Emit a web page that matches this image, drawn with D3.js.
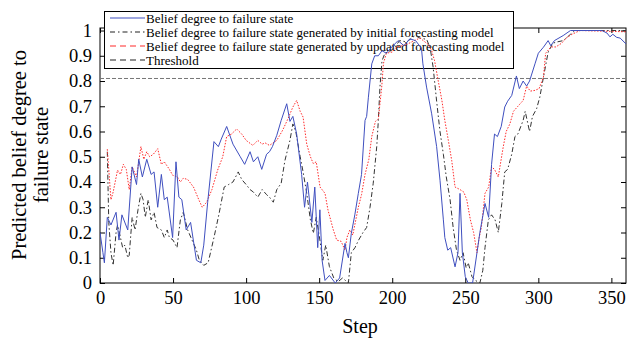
<!DOCTYPE html>
<html><head><meta charset="utf-8">
<script src="https://cdn.jsdelivr.net/npm/d3@7/dist/d3.min.js"></script>
<style>body{margin:0;background:#fff}svg{display:block}</style>
</head><body>
<svg id="chart" width="627" height="344"></svg>
<script>
// ---- data ----
const xTicks = [0, 50, 100, 150, 200, 250, 300, 350];
const yTicks = [0, 0.1, 0.2, 0.3, 0.4, 0.5, 0.6, 0.7, 0.8, 0.9, 1];
const yTickLabels = ["0", "0.1", "0.2", "0.3", "0.4", "0.5", "0.6", "0.7", "0.8", "0.9", "1"];
const legendLabels = [
  "Belief degree to failure state",
  "Belief degree to failure state generated by initial forecasting model",
  "Belief degree to failure state generated by updated forecasting model",
  "Threshold"
];
const threshold = 0.81;

const actualSteps = [0,2,3,5,7.5,11,13,15,19,22,25,26.5,29,32,35,37,39.5,42,44,46,49.7,52,54,56,59,62,66,69,71,73.7,78,81,83,86.7,91,96,99,102.7,105,108,110.7,114,116,118,121,124,127.8,130,132,134.6,138,140,142,145,147,149,150.5,152,154,157,161,164,167.7,169,170,172,174.4,176.8,179,181.4,182.5,183.7,186,188,190.5,193,196,199.6,204,208,212,216,220,221,223.5,227,230.4,232.7,235,236,238,240,243,245,246.4,248,250,252,255,258,260,263.5,266,268,270,272,274.6,277,279,281.8,285,287,289.6,292,294,297.7,300,303.5,306.7,308.5,311,317,322,343.5,347,349,351,353.6,356,360];
const actualValues = [0.20,0.12,0.08,0.26,0.23,0.28,0.17,0.27,0.21,0.46,0.39,0.49,0.42,0.49,0.43,0.44,0.30,0.43,0.33,0.34,0.18,0.48,0.34,0.33,0.21,0.24,0.09,0.08,0.15,0.32,0.56,0.54,0.57,0.62,0.55,0.50,0.47,0.52,0.48,0.50,0.45,0.51,0.52,0.54,0.585,0.644,0.71,0.64,0.66,0.59,0.43,0.30,0.40,0.24,0.38,0.14,0.29,0.09,0.01,0.03,0.0,0.02,0.157,0.12,0.10,0.196,0.27,0.355,0.43,0.644,0.66,0.736,0.868,0.90,0.90,0.92,0.91,0.934,0.96,0.94,0.967,0.96,0.93,0.868,0.776,0.67,0.54,0.407,0.25,0.18,0.13,0.14,0.064,0.12,0.355,0.12,0.025,0.0,0.0,0.12,0.20,0.315,0.26,0.47,0.59,0.58,0.62,0.697,0.72,0.743,0.82,0.77,0.80,0.78,0.80,0.868,0.91,0.934,0.96,0.94,0.96,0.98,1.0,1.0,0.99,0.975,0.985,0.973,0.97,0.947];

const initialSteps = [5,6,7.5,9,11,12,14,15.5,17,19,20,22,24,26,28,29.5,31,33,35,37,39,42,44,46,47.5,50,52.7,55,57,60,63,66,68,71,74,78,81.5,85,88,91,94.6,97,100,102.7,105,108,111,114,116,118.6,121,124,126.6,130,132,134,137,139,141.5,144,146,148,150.5,152.5,154.5,157,160,163,166,170,172,174.5,177,180,182.5,184.8,187,189.4,190.5,191.6,193,195,199,202,205,210,215.6,219,223.6,226,228,230.4,232.7,235,237,239.6,241.7,244,246.4,248.5,250.6,252,254.6,257,260,262,263.5,265.8,268,270.4,272.6,275,277,279,281.8,284,286,289.6,291,294,296,298.8,301,303.5,306.7,310,313,317,322,325,360];
const initialValues = [0.52,0.24,0.12,0.07,0.20,0.23,0.18,0.14,0.15,0.10,0.11,0.26,0.21,0.29,0.355,0.33,0.26,0.33,0.25,0.28,0.22,0.21,0.18,0.21,0.18,0.17,0.14,0.25,0.28,0.21,0.17,0.13,0.09,0.07,0.08,0.18,0.275,0.38,0.39,0.40,0.44,0.41,0.39,0.37,0.36,0.34,0.37,0.35,0.34,0.32,0.37,0.395,0.486,0.565,0.63,0.60,0.50,0.44,0.355,0.25,0.197,0.26,0.17,0.09,0.15,0.065,0.02,0.005,0.02,0.0,0.12,0.14,0.17,0.20,0.22,0.30,0.395,0.54,0.644,0.776,0.88,0.91,0.92,0.935,0.96,0.955,0.98,0.97,0.965,0.93,0.855,0.72,0.60,0.51,0.42,0.33,0.22,0.13,0.09,0.12,0.06,0.08,0.025,0.01,0.0,0.05,0.14,0.25,0.27,0.25,0.20,0.315,0.44,0.45,0.51,0.58,0.59,0.644,0.68,0.60,0.66,0.69,0.736,0.815,0.914,0.95,0.955,0.96,0.985,1.0,1.0];

const updatedSteps = [5,7.5,9,12,14,16,18,20,22,25,28,30,32,34,36.5,39.5,42,44,47.5,49.7,53,55,57,60,64,67.6,70,73,76.6,80.5,84,86.7,90,93.5,97,100,104.6,108,111,113,116,121,125,128.6,132,134.6,137,139,141.5,144,146,148,150.6,154,156,159.7,162,165,167.7,169,171,173,176.8,179,181.4,184,186,188.5,190.5,192.8,194,196,200,203,207,210,215,219,224.6,227,229,231.5,234,236,238.4,240.7,243,246.4,249,251,253.5,255.7,258,259.5,261,263.5,266,268,270,272.6,274,276,278,280.5,283,286,289.6,292,294.5,297.7,300.5,303.5,305,308.6,312,316,319,323,328.5,360];
const updatedValues = [0.53,0.33,0.36,0.447,0.43,0.47,0.45,0.37,0.46,0.42,0.54,0.49,0.52,0.50,0.51,0.532,0.47,0.48,0.45,0.427,0.42,0.40,0.415,0.41,0.38,0.33,0.30,0.32,0.37,0.447,0.50,0.58,0.59,0.61,0.59,0.565,0.545,0.565,0.55,0.555,0.545,0.565,0.605,0.65,0.697,0.723,0.68,0.657,0.55,0.50,0.473,0.48,0.38,0.355,0.29,0.21,0.17,0.165,0.13,0.18,0.21,0.19,0.30,0.35,0.43,0.49,0.58,0.64,0.65,0.776,0.87,0.91,0.915,0.935,0.94,0.945,0.96,0.97,0.945,0.92,0.88,0.80,0.723,0.644,0.565,0.486,0.38,0.37,0.36,0.33,0.25,0.20,0.12,0.18,0.22,0.355,0.38,0.46,0.45,0.42,0.47,0.54,0.60,0.63,0.68,0.70,0.723,0.78,0.76,0.763,0.77,0.815,0.91,0.935,0.935,0.95,0.97,0.985,1.0,0.995];

// ---- layout ----
const FONT = "'Liberation Serif', 'Times New Roman', serif";
const svg = d3.select("#chart");
const x = d3.scaleLinear().domain([0, 360]).range([100, 626]);
const y = d3.scaleLinear().domain([0, 1.01]).range([283, 28]);

const g = svg.append("g");

const ax = (sel) => { sel.select(".domain").remove(); sel.selectAll("line").attr("stroke", "#000"); sel.selectAll("text").attr("font-family", FONT).attr("font-size", 18.5).attr("fill", "#000"); };
g.append("g").attr("transform", "translate(0,283)")
  .call(d3.axisBottom(x).tickValues(xTicks).tickSize(-5).tickPadding(8).tickFormat(d3.format("d"))).call(ax);
g.append("g").attr("transform", "translate(0,28)")
  .call(d3.axisTop(x).tickValues(xTicks).tickSize(-5).tickFormat("")).call(ax);
g.append("g").attr("transform", "translate(100,0)")
  .call(d3.axisLeft(y).tickValues(yTicks).tickSize(-5).tickPadding(8).tickFormat((d, i) => yTickLabels[i])).call(ax);
g.append("g").attr("transform", "translate(626,0)")
  .call(d3.axisRight(y).tickValues(yTicks).tickSize(-5).tickFormat("")).call(ax);

g.append("rect").attr("x", 100).attr("y", 28).attr("width", 526).attr("height", 255)
  .attr("fill", "none").attr("stroke", "#000").attr("stroke-width", 1);

g.append("line").attr("x1", x(0)).attr("x2", x(360)).attr("y1", y(threshold)).attr("y2", y(threshold))
  .attr("stroke", "#777").attr("stroke-width", 1).attr("stroke-dasharray", "4,2");

const legend = svg.append("g");
legend.append("rect").attr("x", 104.5).attr("y", 11.5).attr("width", 409).attr("height", 57)
  .attr("fill", "#fff").attr("stroke", "#000").attr("stroke-width", 1);
const legendStyles = [
  {stroke: "#3f4fbf", dash: null},
  {stroke: "#222", dash: "5,3,1.5,3"},
  {stroke: "#ff2a2a", dash: "6,4"},
  {stroke: "#222", dash: "6,4"}
];
const legendY = [18, 32, 46, 60];
legendLabels.forEach((t, i) => {
  legend.append("line").attr("x1", 110).attr("x2", 145).attr("y1", legendY[i]).attr("y2", legendY[i])
    .attr("stroke", legendStyles[i].stroke).attr("stroke-width", 1.2)
    .attr("stroke-dasharray", legendStyles[i].dash);
  legend.append("text").attr("x", 146).attr("y", legendY[i]).attr("dy", "0.35em")
    .attr("font-family", FONT).attr("font-size", 13).attr("fill", "#000").text(t);
});

const clip = svg.append("clipPath").attr("id", "clip").append("rect")
  .attr("x", 100).attr("y", 20).attr("width", 526).attr("height", 263);
const line = d3.line().x(d => x(d[0])).y(d => y(d[1]));
const lines = svg.append("g").attr("clip-path", "url(#clip)");
const zip = (s, v) => s.map((d, i) => [d, v[i]]);
lines.append("path").datum(zip(initialSteps, initialValues)).attr("d", line)
  .attr("fill", "none").attr("stroke", "#333").attr("stroke-width", 1).attr("stroke-dasharray", "5,2.5,1.5,2.5");
lines.append("path").datum(zip(updatedSteps, updatedValues)).attr("d", line)
  .attr("fill", "none").attr("stroke", "#ff2a2a").attr("stroke-width", 1).attr("stroke-dasharray", "1.5,1.5");
lines.append("path").datum(zip(actualSteps, actualValues)).attr("d", line)
  .attr("fill", "none").attr("stroke", "#3f4fbf").attr("stroke-width", 1);

svg.append("text").attr("x", 360).attr("y", 333).attr("text-anchor", "middle")
  .attr("font-family", FONT).attr("font-size", 20).text("Step");
const yt = svg.append("text").attr("transform", "translate(19,155) rotate(-90)")
  .attr("text-anchor", "middle").attr("font-family", FONT).attr("font-size", 20.5);
yt.append("tspan").attr("x", 0).attr("dy", "0.35em").text("Predicted belief degree to");
yt.append("tspan").attr("x", 0).attr("dy", "1.05em").text("failure state");
</script>
</body></html>
